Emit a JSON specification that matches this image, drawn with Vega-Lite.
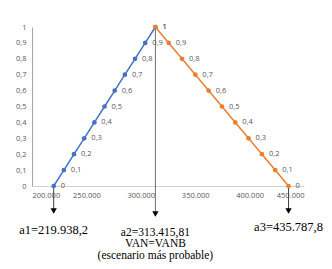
{
  "$schema": "https://vega.github.io/schema/vega-lite/v6.json",
  "autosize": "none",
  "width": 272,
  "height": 159,
  "padding": {"left": 32, "top": 27, "right": 28, "bottom": 83},
  "config": {
    "view": {"stroke": null},
    "locale": {"number": {"decimal": ",", "thousands": ".", "grouping": [3], "currency": ["", "€"]}},
    "font": "Open Sans"
  },
  "datasets": {
    "pts": [
      {"x": 219938.2, "y": 0, "s": "A"},
      {"x": 229285.96, "y": 0.1, "s": "A"},
      {"x": 238633.72, "y": 0.2, "s": "A"},
      {"x": 247981.48, "y": 0.3, "s": "A"},
      {"x": 257329.24, "y": 0.4, "s": "A"},
      {"x": 266677.01, "y": 0.5, "s": "A"},
      {"x": 276024.77, "y": 0.6, "s": "A"},
      {"x": 285372.53, "y": 0.7, "s": "A"},
      {"x": 294720.29, "y": 0.8, "s": "A"},
      {"x": 304068.05, "y": 0.9, "s": "A"},
      {"x": 313415.81, "y": 1, "s": "A"},
      {"x": 313415.81, "y": 1, "s": "B"},
      {"x": 325653.01, "y": 0.9, "s": "B"},
      {"x": 337890.21, "y": 0.8, "s": "B"},
      {"x": 350127.41, "y": 0.7, "s": "B"},
      {"x": 362364.61, "y": 0.6, "s": "B"},
      {"x": 374601.81, "y": 0.5, "s": "B"},
      {"x": 386839.0, "y": 0.4, "s": "B"},
      {"x": 399076.2, "y": 0.3, "s": "B"},
      {"x": 411313.4, "y": 0.2, "s": "B"},
      {"x": 423550.6, "y": 0.1, "s": "B"},
      {"x": 435787.8, "y": 0, "s": "B"}
    ],
    "ann": [
      {"x": 219938.2, "name": "a1", "label": "a1=219.938,2"},
      {"x": 313415.81, "name": "a2", "label": "a2=313.415,81\nVAN=VANB\n(escenario más probable)"},
      {"x": 435787.8, "name": "a3", "label": "a3=435.787,8"}
    ]
  },
  "layer": [
    {
      "data": {"name": "pts"},
      "mark": {"type": "line", "strokeWidth": 1.5},
      "encoding": {
        "x": {"field": "x", "type": "quantitative",
          "scale": {"domain": [200000, 450000], "nice": false, "zero": false},
          "axis": {"values": [200000, 250000, 300000, 350000, 400000, 450000], "labelExpr": "replace(format(datum.value, ',.0f'), ',', '.')", "title": null, "ticks": false, "grid": false, "domainColor": "#d0d0d0", "labelColor": "#595959", "labelFontSize": 7.5, "labelPadding": 5, "labelOverlap": false}},
        "y": {"field": "y", "type": "quantitative",
          "scale": {"domain": [0, 1], "nice": false},
          "axis": {"values": [0, 0.1, 0.2, 0.3, 0.4, 0.5, 0.6, 0.7, 0.8, 0.9, 1], "tickCount": 11, "labelExpr": "replace(format(datum.value, '.1~f'), '.', ',')", "title": null, "ticks": false, "grid": false, "domainColor": "#a6a6a6", "labelColor": "#595959", "labelFontSize": 7.5, "labelPadding": 6, "labelOverlap": false, "labelBound": false, "labelFlush": false}},
        "color": {"field": "s", "type": "nominal", "scale": {"domain": ["A", "B"], "range": ["#4472C4", "#ED7D31"]}, "legend": null}
      }
    },
    {
      "mark": {"type": "rule", "color": "#a6a6a6", "strokeWidth": 1},
      "encoding": {
        "x": {"datum": 200000, "type": "quantitative"},
        "x2": {"datum": 313415.81},
        "y": {"datum": 1, "type": "quantitative"}
      }
    },
    {
      "data": {"name": "ann"},
      "transform": [{"filter": "datum.name == 'a2'"}],
      "mark": {"type": "rule", "color": "#6e6e6e", "strokeWidth": 1},
      "encoding": {
        "x": {"field": "x", "type": "quantitative"},
        "y": {"datum": 1, "type": "quantitative"},
        "y2": {"datum": -0.176}
      }
    },
    {
      "data": {"name": "ann"},
      "transform": [{"filter": "datum.name != 'a2'"}],
      "mark": {"type": "rule", "color": "#404040", "strokeWidth": 1},
      "encoding": {
        "x": {"field": "x", "type": "quantitative"},
        "y": {"datum": 0, "type": "quantitative"},
        "y2": {"datum": -0.157}
      }
    },
    {
      "data": {"name": "ann"},
      "transform": [{"filter": "datum.name != 'a2'"}],
      "mark": {"type": "point", "shape": "triangle-down", "filled": true, "color": "#000000", "size": 40, "opacity": 1},
      "encoding": {
        "x": {"field": "x", "type": "quantitative"},
        "y": {"datum": -0.157, "type": "quantitative"}
      }
    },
    {
      "data": {"name": "ann"},
      "transform": [{"filter": "datum.name == 'a2'"}],
      "mark": {"type": "point", "shape": "triangle-down", "filled": true, "color": "#000000", "size": 40, "opacity": 1},
      "encoding": {
        "x": {"field": "x", "type": "quantitative"},
        "y": {"datum": -0.176, "type": "quantitative"}
      }
    },
    {
      "data": {"name": "ann"},
      "transform": [{"filter": "datum.name == 'a1'"}],
      "mark": {"type": "text", "font": "Liberation Serif", "fontSize": 12.5, "color": "#000000", "baseline": "middle"},
      "encoding": {
        "x": {"field": "x", "type": "quantitative"},
        "y": {"datum": -0.277, "type": "quantitative"},
        "text": {"field": "label"}
      }
    },
    {
      "data": {"name": "ann"},
      "transform": [{"filter": "datum.name == 'a3'"}],
      "mark": {"type": "text", "font": "Liberation Serif", "fontSize": 12.5, "color": "#000000", "baseline": "middle"},
      "encoding": {
        "x": {"field": "x", "type": "quantitative"},
        "y": {"datum": -0.258, "type": "quantitative"},
        "text": {"field": "label"}
      }
    },
    {
      "data": {"name": "ann"},
      "transform": [{"filter": "datum.name == 'a2'"}],
      "mark": {"type": "text", "font": "Liberation Serif", "fontSize": 11.5, "color": "#000000", "lineBreak": "\n", "baseline": "top", "lineHeight": 11.5},
      "encoding": {
        "x": {"field": "x", "type": "quantitative"},
        "y": {"datum": -0.255, "type": "quantitative"},
        "text": {"field": "label"}
      }
    },
    {
      "data": {"name": "pts"},
      "mark": {"type": "point", "filled": true, "size": 22, "opacity": 1},
      "encoding": {
        "x": {"field": "x", "type": "quantitative"},
        "y": {"field": "y", "type": "quantitative"},
        "color": {"field": "s", "type": "nominal"}
      }
    },
    {
      "data": {"name": "pts"},
      "mark": {"type": "text", "align": "left", "dx": 7, "fontSize": 7.5, "color": "#595959"},
      "encoding": {
        "x": {"field": "x", "type": "quantitative"},
        "y": {"field": "y", "type": "quantitative"},
        "text": {"field": "y", "type": "quantitative", "format": ".1~f"}
      }
    },
    {
      "mark": {"type": "text", "font": "Liberation Serif", "fontSize": 11, "align": "left", "dx": -18, "dy": -13, "color": "#404040"},
      "encoding": {
        "x": {"datum": 200000, "type": "quantitative"},
        "y": {"datum": 1, "type": "quantitative"},
        "text": {"value": "μ(x)"}
      }
    },
    {
      "mark": {"type": "text", "font": "Liberation Serif", "fontSize": 11, "fontStyle": "italic", "align": "left", "dx": 17, "dy": -2, "color": "#404040"},
      "encoding": {
        "x": {"datum": 450000, "type": "quantitative"},
        "y": {"datum": 0, "type": "quantitative"},
        "text": {"value": "x"}
      }
    }
  ]
}
